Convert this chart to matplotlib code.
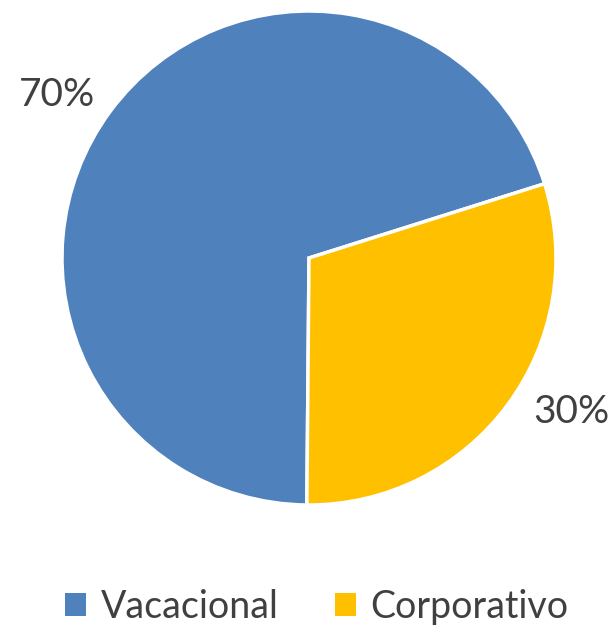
import matplotlib.pyplot as plt
from matplotlib.patches import Patch

# data
categories = ['Vacacional', 'Corporativo']
shares = [70, 30]
colors = ['#4F81BD', '#FFC000']

W, H = 613, 629
fig = plt.figure(figsize=(W / 100, H / 100), dpi=100)
ax = fig.add_axes([0, 0, 1, 1])
ax.set_xlim(0, W)
ax.set_ylim(0, H)
ax.set_aspect('equal')
ax.axis('off')

wedges, texts, autotexts = ax.pie(
    shares, colors=colors, startangle=17.5, counterclock=True,
    center=(309, H - 258), radius=247,
    autopct='%1.0f%%', pctdistance=1.22,
    wedgeprops={'edgecolor': 'white', 'linewidth': 2.5},
    textprops={'fontsize': 28, 'color': '#404040', 'family': 'Lato'})
ax.set_xlim(0, W)
ax.set_ylim(0, H)

# Excel's best-fit label spots
label_pos = [(57, 95), (571, 412)]
for t, (x, y) in zip(autotexts, label_pos):
    t.set_position((x, H - y))

handles = [Patch(facecolor=c, label=l) for c, l in zip(colors, categories)]
fig.legend(handles=handles, loc='center', bbox_to_anchor=(0.517, 1 - 607 / H),
           ncol=2, frameon=False, handlelength=0.55, handleheight=0.55,
           columnspacing=1.5, handletextpad=0.4,
           prop={'family': 'Lato', 'size': 27}, labelcolor='#404040')

fig.savefig('out.png', dpi=100)
